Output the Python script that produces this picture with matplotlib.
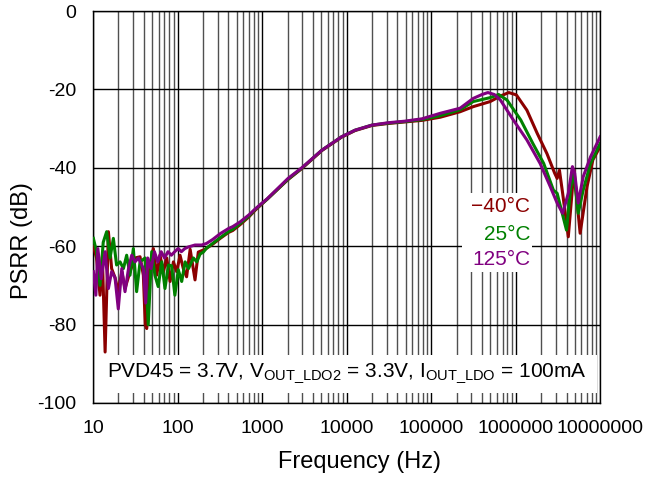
import matplotlib
matplotlib.use('Agg')
import matplotlib.pyplot as plt
from matplotlib.patches import Rectangle
from matplotlib.ticker import FixedLocator, LogLocator, NullFormatter

plt.rcParams['font.family'] = ['Liberation Sans', 'DejaVu Sans']

# -40 C
freq_m40 = [10.1, 11.0, 12.1, 12.9, 13.9, 15.2, 16.6, 18.2, 19.9, 21.9, 23.9, 27.4, 31.4, 36.0,
            39.4, 41.5, 43.2, 47, 51.7, 56.7, 62, 68, 74.5, 81.6, 89.3, 97.8, 107, 117, 128,
            141, 161, 176, 211, 260, 320, 400, 450, 550, 700, 830, 1000, 1150, 2030,
            2950, 5100, 8700, 12600, 20000, 31000, 49000, 78000, 128000, 220000, 315000,
            500000, 660000, 830000, 1020000, 1360000, 1800000, 2350000, 2900000, 3100000,
            3300000, 3600000, 4200000, 4900000, 5800000, 7000000, 8200000, 10000000]
psrr_m40 = [-60, -63, -72.5, -62.7, -87, -56.3, -65.7, -68, -71.6, -66.5, -70.8, -66.5, -63, -62.7,
            -67.4, -80, -81, -64.8, -60.6, -67.4, -62.3, -66.5, -63, -69, -64, -66.5, -62.3, -65.7, -67.8,
            -60.8, -68.6, -61.5, -60.8, -59.5, -58, -56.5, -56, -54.5, -52.5, -50.8, -49.2, -48, -43,
            -40.2, -35.6, -32.2, -30.5, -29.2, -28.7, -28.3, -27.9, -27.1, -25.7, -24.4,
            -23.1, -21.7, -20.8, -21.4, -25.3, -31.2, -36.4, -41.4, -42.7,
            -40.6, -46.5, -57.6, -40.6, -56.7, -44.8, -38, -34.6]

# 25 C
freq_25 = [10.1, 11.0, 12.1, 13.2, 14.5, 15.9, 17.4, 19.0, 20.9, 22.9, 25.0, 27.4, 30.0, 32.8,
           36.0, 41.3, 45, 49.5, 54, 59, 65, 71, 78, 85, 93, 102, 112, 123, 135, 154, 169, 185,
           202, 220, 260, 320, 400, 450, 550, 700, 830, 1000, 1150, 2030, 2950, 5100, 8700,
           12600, 20000, 31000, 49000, 78000, 128000, 220000, 315000, 500000, 630000, 790000,
           1150000, 1600000, 2150000, 2800000, 3100000, 3400000, 4000000, 4500000, 4900000,
           5500000, 6300000, 7700000, 10000000]
psrr_25 = [-58, -61.4, -70, -59, -56.3, -63, -58, -64.8, -64, -65.7, -62.3, -67.4, -60.6, -71.6,
           -64, -63, -80, -61.4, -67.4, -70.3, -64, -70.8, -64.8, -65, -72.5, -66, -69, -64, -65.7, -63, -64, -62,
           -61.5, -60.5, -59.3, -57.8, -56.3, -55.7, -54.2, -52.3, -50.6, -49.1, -48, -42.9, -40.1, -35.5, -32.1,
           -30.4, -29.1, -28.6, -28.2, -27.7, -26.7, -25.2, -23.1, -22.1, -21.3, -22.7,
           -27.8, -33.8, -38.9, -45.7, -46.5, -49.9, -55.9, -44.8, -41.4,
           -51.6, -45.7, -38.9, -33.8]

# 125 C
freq_125 = [10.1, 10.8, 11.4, 12.5, 13.9, 15.2, 16.6, 18.2, 19.9, 21.9, 23.9, 26.3, 28.7, 31.4,
            34.4, 39.4, 42, 44.3, 48.6, 53.3, 58.4, 64, 70.2, 77, 84.5, 92.6, 101.6, 111, 122,
            134, 161, 193, 220, 260, 320, 400, 450, 550, 700, 830, 1000, 1150, 2030, 2950,
            5100, 8700, 12600, 20000, 31000, 49000, 78000, 128000, 220000, 315000, 400000,
            470000, 560000, 660000, 940000, 1360000, 1950000, 2570000, 3100000, 3600000,
            4200000, 4700000, 5000000, 5500000, 6300000, 7700000, 10000000]
psrr_125 = [-66.5, -72.5, -60.6, -68.3, -61.4, -70.8, -66.5, -68, -76, -65.7, -71.6, -65.7, -62.3, -64,
            -63, -65.7, -74.5, -63, -65.7, -61.4, -64, -61.4, -63, -61.4, -62.3, -61.4, -60.6, -61.4, -60.6,
            -60.2, -59.7, -59.7, -59.3, -58.3, -56.8, -55.5, -55, -53.8, -52, -50.5, -49, -47.9, -42.7, -40,
            -35.5, -32.1, -30.4, -29.1, -28.5, -28.1, -27.5, -26.1, -24.8, -22.3, -21.3,
            -20.8, -21.3, -22.7, -27.8, -32.9, -38.9, -44.8, -49, -51.6,
            -46.5, -39.7, -41.4, -49, -42.3, -37.2, -32.1]

labels = ['\u221240\u00b0C', '25\u00b0C', '125\u00b0C']
colors = ['#8B0000', '#008000', '#800080']
x_ticks = [10, 100, 1000, 10000, 100000, 1000000, 10000000]
y_ticks = [0, -20, -40, -60, -80, -100]

fig = plt.figure(figsize=(6.46, 4.79), dpi=100)
ax = fig.add_axes([0.144, 0.1587, 0.785, 0.8183])

ax.plot(freq_m40, psrr_m40, color=colors[0], lw=2.2, zorder=4)
ax.plot(freq_25, psrr_25, color=colors[1], lw=2.2, zorder=4)
ax.plot(freq_125, psrr_125, color=colors[2], lw=2.2, zorder=4)

ax.set_xscale('log')
ax.set_xlim(10, 10000000)
ax.set_ylim(-100, 0)
ax.xaxis.set_major_locator(FixedLocator(x_ticks))
ax.set_xticklabels([str(t) for t in x_ticks])
ax.xaxis.set_minor_locator(LogLocator(base=10, subs=range(2, 10)))
ax.xaxis.set_minor_formatter(NullFormatter())
ax.set_yticks(y_ticks)
ax.set_yticklabels([str(t) for t in y_ticks])

ax.grid(which='major', axis='both', color='black', lw=1.0, zorder=1)
ax.grid(which='minor', axis='x', color='#505050', lw=1.0, zorder=1)
ax.set_axisbelow(True)
ax.tick_params(which='both', length=0, labelsize=14, pad=12)
for s in ax.spines.values():
    s.set_color('black')
    s.set_linewidth(1.0)

ax.set_xlabel('Frequency (Hz)', fontsize=17)
ax.set_ylabel('PSRR (dB)', fontsize=17)
# the labels sit off-centre in the original
ax.xaxis.set_label_coords(0.525, -0.122)
ax.yaxis.set_label_coords(-0.118, 0.415)

# condition box
ax.add_patch(Rectangle((0.008, 0.0255), 0.986, 0.097, transform=ax.transAxes,
                       facecolor='white', edgecolor='none', zorder=2))
ax.text(0.501, 0.074, r'PVD45 = 3.7V, V$_\mathregular{OUT\_LDO2}$ = 3.3V, I$_\mathregular{OUT\_LDO}$ = 100mA',
        transform=ax.transAxes, ha='center', va='center', fontsize=15, zorder=3)

# legend box
ax.add_patch(Rectangle((0.728, 0.335), 0.138, 0.2, transform=ax.transAxes,
                       facecolor='white', edgecolor='none', zorder=2))
for lab, c, yy in zip(labels, colors, [0.50, 0.431, 0.367]):
    ax.text(0.862, yy, lab, color=c, transform=ax.transAxes, ha='right', va='center',
            fontsize=15, zorder=3)

plt.savefig('out.png', dpi=100)
